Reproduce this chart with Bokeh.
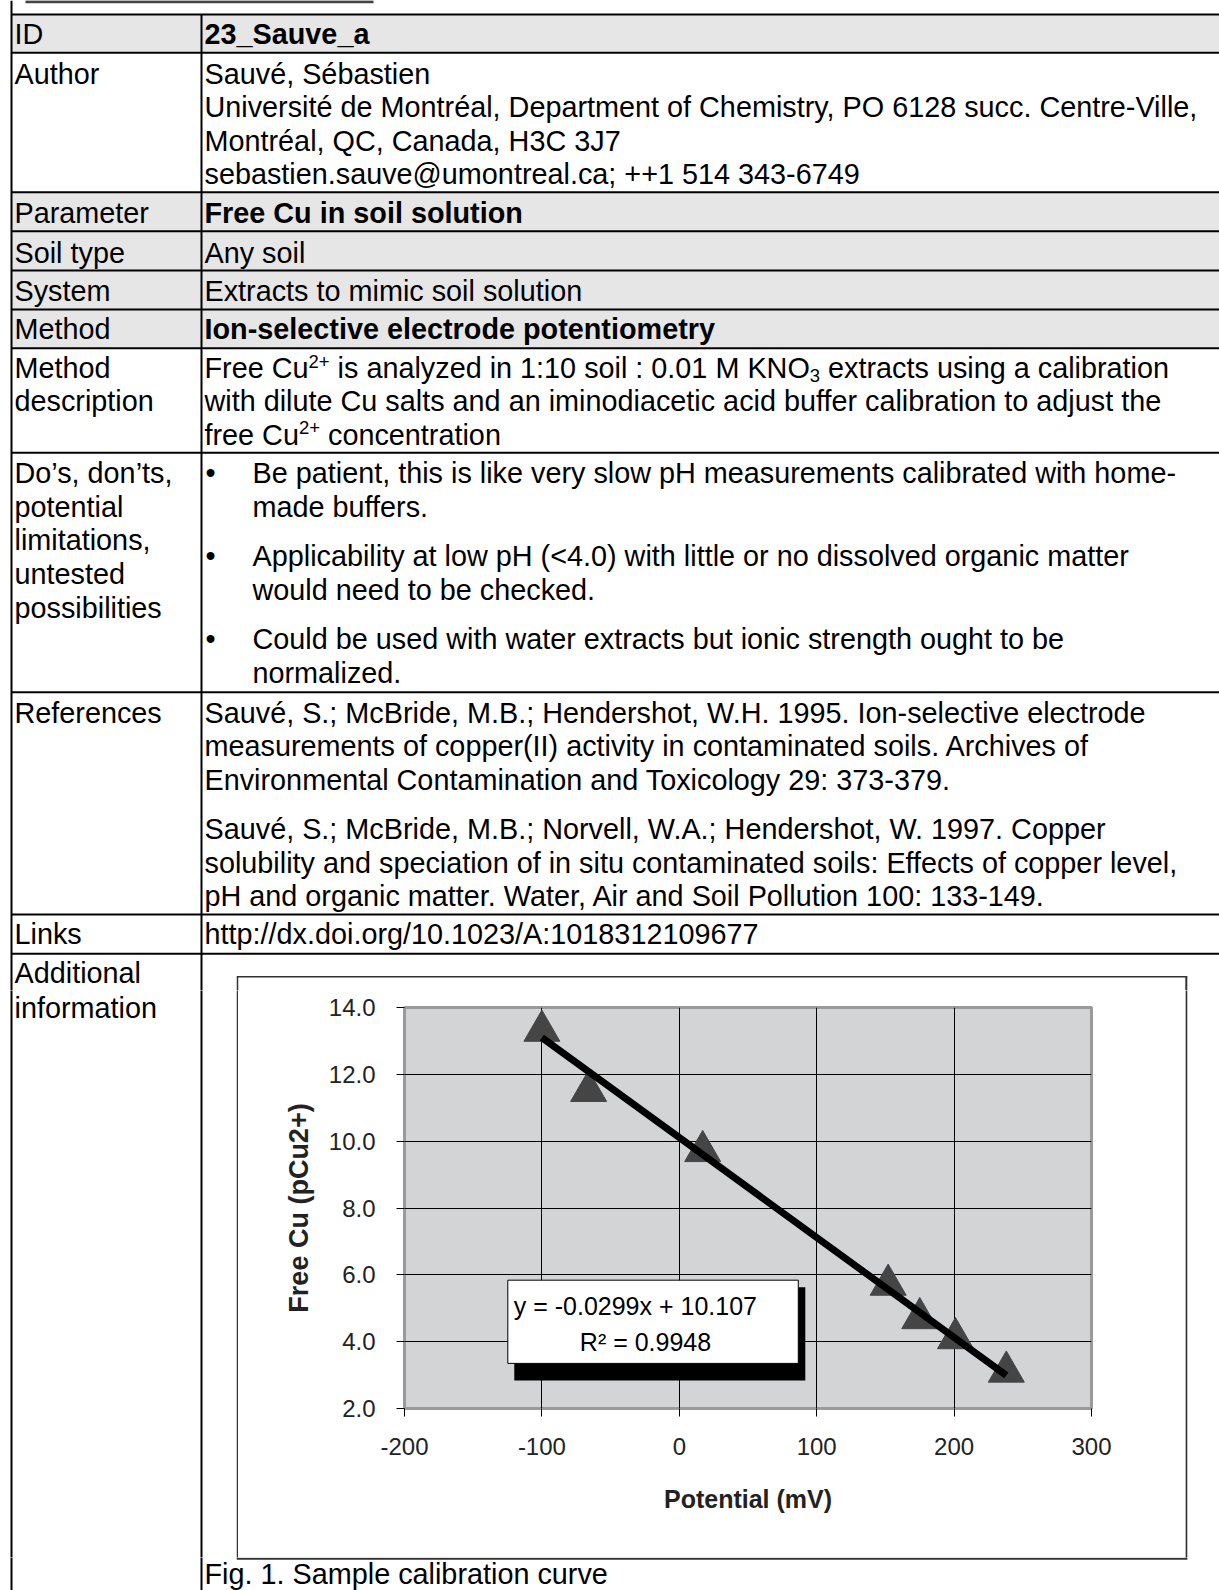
from bokeh.plotting import figure
from bokeh.models import Range1d, FixedTicker, BoxAnnotation, Label
from bokeh.layouts import column, row
from bokeh.core.properties import value
from bokeh.embed import file_html
from bokeh.resources import INLINE

# ---------------- chart data (Fig. 1, sample calibration curve) ----------------
potential_mv = [-100, -66, 17, 152, 175, 201, 238]
free_cu_pcu = [13.3, 11.5, 9.7, 5.7, 4.7, 4.1, 3.1]
trend_slope = -0.0299
trend_intercept = 10.107
trend_r2 = 0.9948
x_ticks = [-200, -100, 0, 100, 200, 300]
x_tick_labels = ["-200", "-100", "0", "100", "200", "300"]
y_ticks = [2, 4, 6, 8, 10, 12, 14]
y_tick_labels = ["2.0", "4.0", "6.0", "8.0", "10.0", "12.0", "14.0"]
x_title = "Potential (mV)"
y_title = "Free Cu (pCu2+)"
caption = "Fig. 1. Sample calibration curve"

# ---------------- table text ----------------
row_labels = ["ID", "Author", "Parameter", "Soil type", "System", "Method",
              "Method", "description",
              "Do\u2019s, don\u2019ts,", "potential", "limitations,", "untested", "possibilities",
              "References", "Links"]
author_lines = ["Sauv\u00e9, S\u00e9bastien",
                "Universit\u00e9 de Montr\u00e9al, Department of Chemistry, PO 6128 succ. Centre-Ville,",
                "Montr\u00e9al, QC, Canada, H3C 3J7",
                "sebastien.sauve@umontreal.ca; ++1 514 343-6749"]
id_text = "23_Sauve_a"
parameter_text = "Free Cu in soil solution"
soil_text = "Any soil"
system_text = "Extracts to mimic soil solution"
method_text = "Ion-selective electrode potentiometry"
bullets = [["Be patient, this is like very slow pH measurements calibrated with home-",
            "made buffers."],
           ["Applicability at low pH (<4.0) with little or no dissolved organic matter",
            "would need to be checked."],
           ["Could be used with water extracts but ionic strength ought to be",
            "normalized."]]
references = [["Sauv\u00e9, S.; McBride, M.B.; Hendershot, W.H. 1995. Ion-selective electrode",
               "measurements of copper(II) activity in contaminated soils. Archives of",
               "Environmental Contamination and Toxicology 29: 373-379."],
              ["Sauv\u00e9, S.; McBride, M.B.; Norvell, W.A.; Hendershot, W. 1997. Copper",
               "solubility and speciation of in situ contaminated soils: Effects of copper level,",
               "pH and organic matter. Water, Air and Soil Pollution 100: 133-149."]]
link_text = "http://dx.doi.org/10.1023/A:1018312109677"

FONT = "Liberation Sans"
FSZ = 28.8          # body text size (px)
FSZ_SMALL = 18.5    # super/subscript size (px)
BASE_K = 0.325      # baseline correction (fraction of font size)


def panel(x0, x1, y0, y1):
    p = figure(width=int(round(x1 - x0)), height=int(round(y1 - y0)),
               x_range=Range1d(x0, x1), y_range=Range1d(y1, y0),
               x_axis_type=None, y_axis_type=None, toolbar_location=None,
               output_backend="svg", min_border=0, outline_line_color=None,
               background_fill_color="white", border_fill_color="white")
    return p


def write(p, xs, ys, texts, size=FSZ, style="normal", color="black"):
    ys = [y - BASE_K * size for y in ys]
    p.text(x=xs, y=ys, text=texts, text_font=value(FONT), text_font_size=f"{size}px",
           text_font_style=style, text_color=color,
           text_baseline="alphabetic", text_align="left")


def hseg(p, ys, x0, x1, width=2, color="black"):
    p.segment(x0=[x0] * len(ys), x1=[x1] * len(ys), y0=ys, y1=ys,
              line_width=width, line_color=color)


def vseg(p, xs, y0s, y1s, width=2, color="black"):
    p.segment(x0=xs, x1=xs, y0=y0s, y1=y1s, line_width=width, line_color=color)


LX, VX = 14, 204
COL_L, COL_D = 11, 201
BOX_L, BOX_R, BOX_T, BOX_B = 237, 1185.8, 976.2, 1558.2
BOX_C = "#333333"

# ---------------- panel A : table rows (page y 0..990) ----------------
A = panel(0, 1219, 0, 990)
gray_rows = [(14, 52.3), (191.7, 230.7), (230.7, 270), (270, 309), (309, 347.7)]
A.quad(left=[COL_L] * len(gray_rows), right=[1230] * len(gray_rows),
       top=[g[0] for g in gray_rows], bottom=[g[1] for g in gray_rows],
       fill_color="#e6e6e6", line_color=None)
row_y = [14, 52.3, 191.7, 230.7, 270, 309, 347.7, 452.3, 691.7, 914, 953.3]
hseg(A, row_y, COL_L, 1230)
vseg(A, [COL_L, COL_D], [0, 14], [1000, 1000])
hseg(A, [1.2], 25, 373, width=3, color="#444444")
# chart box: top border and upper stubs of the side borders
hseg(A, [BOX_T], BOX_L - 0.7, BOX_R + 1, width=1.5, color=BOX_C)
vseg(A, [BOX_L], [BOX_T], [1000], width=1.5, color=BOX_C)
vseg(A, [BOX_R], [BOX_T], [1000], width=2, color=BOX_C)

label_y = [43.3, 82.7, 221.7, 261.7, 300, 338.3, 376.7, 410.2,
           481.7, 515.5, 549.2, 583, 616.7, 721.7, 943.3]
write(A, [LX] * len(row_labels), label_y, row_labels)
write(A, [LX], [981.7], ["Additional"])

write(A, [VX], [43.3], [id_text], style="bold")
write(A, [VX] * 4, [82.7, 116.2, 149.8, 183.3], author_lines)
write(A, [VX], [221.7], [parameter_text], style="bold")
write(A, [VX, VX], [261.7, 300], [soil_text, system_text])
write(A, [VX], [338.3], [method_text], style="bold")

# method description with super/subscripts
write(A, [204, 337.1, 827.6, 204, 327.5], [376.7, 376.7, 376.7, 443.5, 443.5],
      ["Free Cu", "is analyzed in 1:10 soil : 0.01 M KNO", "extracts using a calibration",
       "free Cu", "concentration"])
write(A, [308.0, 298.4], [366.7, 433.5], ["2+", "2+"], size=FSZ_SMALL)
write(A, [809.3], [381.5], ["3"], size=FSZ_SMALL)
write(A, [VX], [410.2], ["with dilute Cu salts and an iminodiacetic acid buffer calibration to adjust the"])

bullet_y = [481.7, 565, 648.3]
write(A, [205] * 3, bullet_y, ["\u2022"] * 3)
bx, by, bt = [], [], []
for y0, lines in zip(bullet_y, bullets):
    for i, s in enumerate(lines):
        bx.append(252); by.append(y0 + 34 * i); bt.append(s)
write(A, bx, by, bt)

rx, ry, rt = [], [], []
for y0, lines in zip([721.7, 838.3], references):
    for i, s in enumerate(lines):
        rx.append(VX); ry.append(y0 + 33.4 * i); rt.append(s)
write(A, rx, ry, rt)
write(A, [VX], [943.3], [link_text])

# ---------------- panel B : left part of "Additional information" row ----------------
B = panel(0, 238, 990, 1557)
vseg(B, [COL_L, COL_D], [980, 980], [1570, 1570])
write(B, [LX], [1016.7], ["information"])
vseg(B, [BOX_L], [980], [1570], width=1.5, color=BOX_C)

# ---------------- panel D : right of chart ----------------
D = panel(1185, 1219, 990, 1557)
vseg(D, [BOX_R], [980], [1570], width=2, color=BOX_C)

# ---------------- panel E : bottom strip with caption ----------------
E = panel(0, 1219, 1557, 1590)
vseg(E, [COL_L, COL_D], [1550, 1550], [1600, 1600])
hseg(E, [BOX_B], BOX_L - 0.7, BOX_R + 1, width=2, color=BOX_C)
vseg(E, [BOX_L], [1550], [BOX_B], width=1.5, color=BOX_C)
vseg(E, [BOX_R], [1550], [BOX_B], width=2, color=BOX_C)
write(E, [VX], [1583], [caption])

# ---------------- chart C (page x 238..1185, y 990..1557) ----------------
C = figure(width=947, height=567, x_range=Range1d(-200, 300), y_range=Range1d(2, 14),
           toolbar_location=None, output_backend="svg",
           min_border_left=166, min_border_right=94, min_border_top=17, min_border_bottom=149,
           background_fill_color="#d3d4d6", border_fill_color="white")
C.outline_line_color = "#9a9a9a"
C.outline_line_width = 3

C.xaxis.ticker = FixedTicker(ticks=x_ticks)
C.yaxis.ticker = FixedTicker(ticks=y_ticks)
C.xaxis.major_label_overrides = {t: s for t, s in zip(x_ticks, x_tick_labels)}
C.yaxis.major_label_overrides = {t: s for t, s in zip(y_ticks, y_tick_labels)}
C.xgrid.ticker = FixedTicker(ticks=x_ticks)
C.ygrid.ticker = FixedTicker(ticks=y_ticks)
C.grid.grid_line_color = "black"
C.grid.grid_line_width = 1
C.grid.grid_line_alpha = 1

for ax in (C.xaxis, C.yaxis):
    ax.axis_line_color = None
    ax.major_tick_line_color = "black"
    ax.major_tick_line_width = 1
    ax.major_tick_out = 8
    ax.major_tick_in = 0
    ax.minor_tick_line_color = None
    ax.major_label_text_font = FONT
    ax.major_label_text_font_size = "24px"
    ax.major_label_text_color = "#222222"
    ax.major_label_standoff = 21
    ax.axis_label_text_font = FONT
    ax.axis_label_text_font_style = "bold"
    ax.axis_label_text_color = "#222222"

C.xaxis.axis_label = x_title
C.yaxis.axis_label = y_title
C.xaxis.axis_label_text_font_size = "25px"
C.yaxis.axis_label_text_font_size = "27px"
C.xaxis.axis_label_standoff = 27
C.yaxis.axis_label_standoff = 12

C.scatter(potential_mv, free_cu_pcu, marker="triangle", size=36,
          fill_color="#454545", line_color="#454545")
x_lo, x_hi = min(potential_mv), max(potential_mv)
C.line([x_lo, x_hi], [trend_slope * x_lo + trend_intercept, trend_slope * x_hi + trend_intercept],
       line_color="black", line_width=7)

C.add_layout(BoxAnnotation(left=-120.1, right=91.7, top=5.63, bottom=2.84,
                           fill_color="black", fill_alpha=1, line_color=None))
C.add_layout(BoxAnnotation(left=-124.8, right=86.6, top=5.84, bottom=3.35,
                           fill_color="white", fill_alpha=1,
                           line_color="black", line_alpha=1, line_width=1))
C.add_layout(Label(x=-120.5, y=5.07, text=f"y = {trend_slope}x + {trend_intercept}",
                   text_font=FONT, text_font_size="25px", text_baseline="alphabetic",
                   text_color="black"))
C.add_layout(Label(x=-72.4, y=3.99, text=f"R\u00b2 = {trend_r2}",
                   text_font=FONT, text_font_size="25px", text_baseline="alphabetic",
                   text_color="black"))

layout = column(A, row(B, column(C), D), E)

with open("out.html", "w") as f:
    f.write(file_html(layout, INLINE))
